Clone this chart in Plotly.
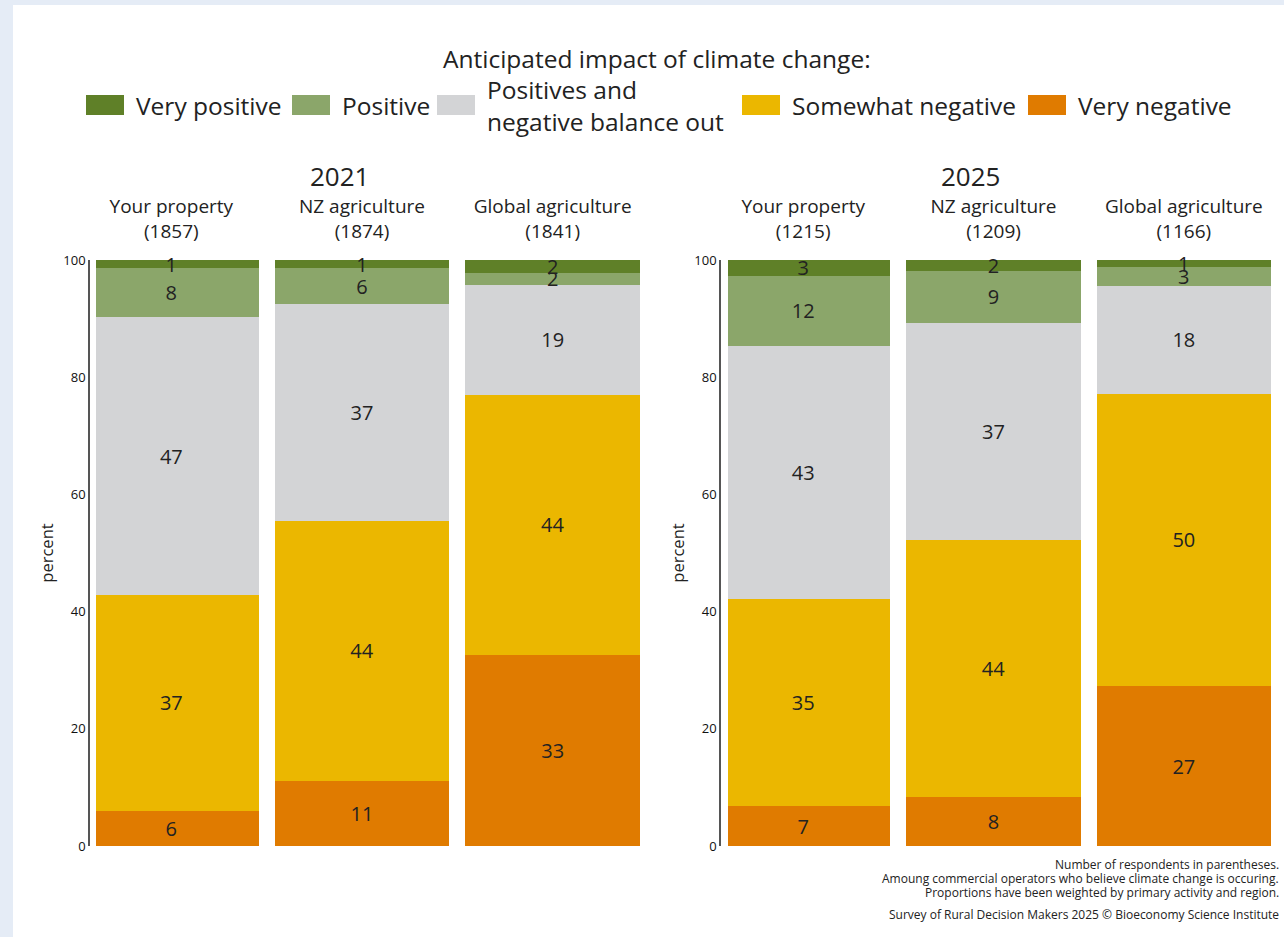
import plotly.graph_objects as go

# ---------------- data ----------------
categories = ["Your property", "NZ agriculture", "Global agriculture"]
n_2021 = [1857, 1874, 1841]
n_2025 = [1215, 1209, 1166]

series_names = ["Very negative", "Somewhat negative",
                "Positives and<br>negative balance out", "Positive", "Very positive"]
series_colors = ["#e07b00", "#ebb700", "#d3d4d6", "#8ba66a", "#5f8028"]

very_negative_2021 = [6.0, 11.1, 32.6]
somewhat_negative_2021 = [36.9, 44.4, 44.4]
balance_2021 = [47.3, 37.0, 18.8]
positive_2021 = [8.4, 6.1, 2.0]
very_positive_2021 = [1.4, 1.4, 2.2]

very_negative_2025 = [6.8, 8.4, 27.3]
somewhat_negative_2025 = [35.3, 43.8, 49.9]
balance_2025 = [43.2, 37.0, 18.4]
positive_2025 = [12.0, 9.0, 3.2]
very_positive_2025 = [2.7, 1.8, 1.2]

years = ["2021", "2025"]
legend_title = "Anticipated impact of climate change:"
legend_order = [4, 3, 2, 1, 0]  # display order left to right
notes = ["Number of respondents in parentheses.",
         "Amoung commercial operators who believe climate change is occuring.",
         "Proportions have been weighted by primary activity and region."]
credit = "Survey of Rural Decision Makers 2025 \u00a9 Bioeconomy Science Institute"
y_ticks = [0, 20, 40, 60, 80, 100]

# ---------------- figure ----------------
W, H = 1284, 937
FONT = "Open Sans"
TXT = "#222222"


def px(x):
    return x / W


def py(y):
    return 1 - y / H


data_2021 = [very_negative_2021, somewhat_negative_2021, balance_2021, positive_2021, very_positive_2021]
data_2025 = [very_negative_2025, somewhat_negative_2025, balance_2025, positive_2025, very_positive_2025]

labels_2021 = [f"{c}<br>({n})" for c, n in zip(categories, n_2021)]
labels_2025 = [f"{c}<br>({n})" for c, n in zip(categories, n_2025)]

fig = go.Figure()
for ax_x, ax_y, labels, data in [("x", "y", labels_2021, data_2021), ("x2", "y2", labels_2025, data_2025)]:
    for name, color, vals in zip(series_names, series_colors, data):
        fig.add_trace(go.Bar(
            x=labels, y=vals, name=name, xaxis=ax_x, yaxis=ax_y,
            marker=dict(color=color, line=dict(width=0)),
            texttemplate="%{y:.0f}", textposition="inside", insidetextanchor="middle",
            textangle=0,
            textfont=dict(size=20, color=TXT, family=FONT),
            cliponaxis=False, showlegend=False, hoverinfo="skip",
        ))

y_dom = [py(846), py(260)]
xcommon = dict(side="top", showgrid=False, zeroline=False, showline=False, ticks="",
               range=[-0.395, 2.5],
               tickfont=dict(size=19, color=TXT, family=FONT), ticklabelstandoff=17,
               automargin=False, fixedrange=True)
ycommon = dict(range=[0, 100], domain=y_dom, showgrid=False, zeroline=False, showline=True,
               linecolor="#555555", linewidth=1.5, ticks="", tickvals=y_ticks,
               tickfont=dict(size=13, color="#111111", family=FONT), anchor="free",
               title=dict(text="percent", font=dict(size=16.5, color=TXT, family=FONT), standoff=5),
               automargin=False, fixedrange=True)

fig.update_layout(
    width=W, height=H,
    margin=dict(l=0, r=0, t=0, b=0),
    paper_bgcolor="#E5ECF6", plot_bgcolor="rgba(0,0,0,0)",
    barmode="stack", bargap=0.084,
    font=dict(family=FONT, color=TXT),
    showlegend=False,
    xaxis=dict(domain=[px(96), px(648)], anchor="y", **xcommon),
    xaxis2=dict(domain=[px(728), px(1279)], anchor="y2", **xcommon),
    yaxis=dict(position=px(89), **ycommon),
    yaxis2=dict(position=px(720), **ycommon),
    uniformtext=dict(minsize=20, mode="show"),
)

shapes = [dict(type="rect", xref="paper", yref="paper", x0=px(13), x1=1, y0=0, y1=py(5),
               fillcolor="white", line=dict(width=0), layer="below")]
annotations = []

# subplot titles
for yr, cx in zip(years, [340, 970]):
    annotations.append(dict(text=yr, x=px(cx), y=py(176), xref="paper", yref="paper",
                            xanchor="center", yanchor="middle", showarrow=False,
                            font=dict(size=26, color=TXT, family=FONT)))

# legend title
annotations.append(dict(text=legend_title, x=px(657), y=py(58), xref="paper", yref="paper",
                        xanchor="center", yanchor="middle", showarrow=False,
                        font=dict(size=24.5, color=TXT, family=FONT)))

# custom legend
swatch_left = [86, 292, 437, 742, 1028]
for i, sx in zip(legend_order, swatch_left):
    shapes.append(dict(type="rect", xref="paper", yref="paper", x0=px(sx), x1=px(sx + 38),
                       y0=py(115), y1=py(95), fillcolor=series_colors[i], line=dict(width=0)))
    annotations.append(dict(text=series_names[i], x=px(sx + 48), y=py(105.5), xref="paper", yref="paper",
                            xanchor="left", yanchor="middle", align="left", showarrow=False,
                            font=dict(size=24.5, color=TXT, family=FONT)))

# notes (one annotation per line for tight spacing)
for k, line in enumerate(notes):
    annotations.append(dict(text=line, x=px(1281), y=py(864 + 14 * k), xref="paper", yref="paper",
                            xanchor="right", yanchor="middle", align="right", showarrow=False,
                            font=dict(size=12, color=TXT, family=FONT)))
annotations.append(dict(text=credit, x=px(1281), y=py(914), xref="paper", yref="paper",
                        xanchor="right", yanchor="middle", align="right", showarrow=False,
                        font=dict(size=12, color=TXT, family=FONT)))

fig.update_layout(shapes=shapes, annotations=annotations)
fig.write_html("out.html", config={"displayModeBar": False},
               post_script="document.body.style.margin='0';document.body.style.overflow='hidden';")
